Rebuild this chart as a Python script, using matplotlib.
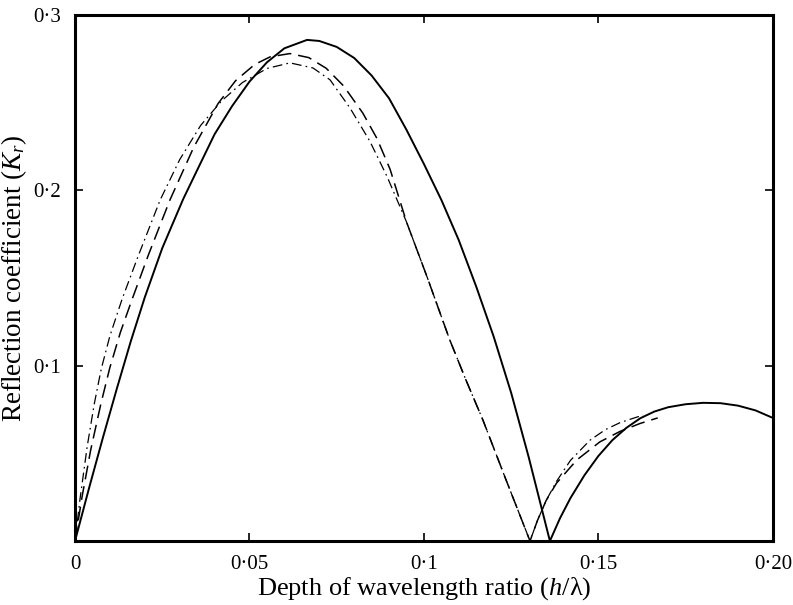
import matplotlib
matplotlib.use("Agg")
import matplotlib.pyplot as plt
from matplotlib.ticker import FixedLocator, FixedFormatter

plt.rcParams['font.family'] = ['Liberation Serif', 'DejaVu Serif']
plt.rcParams['mathtext.fontset'] = 'custom'
plt.rcParams['mathtext.rm'] = 'Liberation Serif'
plt.rcParams['mathtext.it'] = 'Liberation Serif:italic'
plt.rcParams['lines.scale_dashes'] = False

# solid curve
solid_x = [0, 0.004, 0.008, 0.012, 0.016, 0.020, 0.025, 0.031, 0.035,
           0.040, 0.045, 0.050, 0.055, 0.060, 0.0665, 0.070, 0.075, 0.080, 0.085,
           0.090, 0.095, 0.100, 0.105, 0.110, 0.115, 0.120, 0.125, 0.130, 0.1361,
           0.1390, 0.1420, 0.1460, 0.1500, 0.1540, 0.1580, 0.1620, 0.1660, 0.1700,
           0.1750, 0.1800, 0.1850, 0.1900, 0.1950, 0.2000]
solid_y = [0, 0.030, 0.059, 0.087, 0.114, 0.139, 0.167, 0.195, 0.2115,
           0.232, 0.248, 0.262, 0.273, 0.281, 0.2858, 0.2852, 0.2818, 0.2755, 0.2655,
           0.2525, 0.2345, 0.2150, 0.1945, 0.1715, 0.1450, 0.1165, 0.0845, 0.0480, 0.0,
           0.0130, 0.0245, 0.0375, 0.0485, 0.0575, 0.0645, 0.0700, 0.0738, 0.0763,
           0.0780, 0.0788, 0.0786, 0.0772, 0.0745, 0.0702]

# dashed curve
dash_x = [0, 0.002, 0.0045, 0.0075, 0.010, 0.013, 0.0163, 0.021, 0.0272, 0.034,
          0.041, 0.046, 0.0515, 0.056, 0.0616, 0.067, 0.072, 0.077, 0.0825, 0.0865,
          0.0903, 0.095, 0.1009, 0.1074, 0.1120, 0.1169, 0.1235, 0.1304, 0.1325,
          0.1350, 0.1380, 0.1438, 0.1504, 0.1562, 0.1619, 0.1670]
dash_y = [0, 0.025, 0.052, 0.079, 0.099, 0.119, 0.1375, 0.163, 0.1945, 0.2245,
          0.2495, 0.2625, 0.2718, 0.2762, 0.278, 0.2757, 0.2696, 0.2595, 0.2440, 0.2297,
          0.2120, 0.1820, 0.1506, 0.1147, 0.0920, 0.0690, 0.0350, 0.0, 0.0115,
          0.0230, 0.0330, 0.0462, 0.0565, 0.0625, 0.0670, 0.0702]

# dash-dot curve
dashdot_x = [0, 0.0015, 0.0035, 0.0055, 0.0075, 0.010, 0.0135, 0.018, 0.0244, 0.030,
             0.036, 0.042, 0.048, 0.055, 0.0616, 0.0682, 0.0731, 0.0788, 0.0845,
             0.0894, 0.095, 0.1009, 0.1074, 0.1120, 0.1169, 0.1235, 0.1304, 0.1325,
             0.1350, 0.1380, 0.1420, 0.1476, 0.1520, 0.1562, 0.1600, 0.1628]
dashdot_y = [0, 0.025, 0.054, 0.078, 0.098, 0.117, 0.138, 0.162, 0.1945, 0.2175,
             0.237, 0.251, 0.2615, 0.2695, 0.2727, 0.2698, 0.263, 0.247, 0.228,
             0.208, 0.182, 0.1506, 0.1147, 0.0920, 0.0690, 0.0350, 0.0, 0.0115,
             0.0230, 0.0340, 0.0460, 0.0575, 0.0635, 0.0675, 0.0700, 0.0718]

x_ticks = [0, 0.05, 0.1, 0.15, 0.2]
x_labels = ['0', '0·05', '0·1', '0·15', '0·20']
y_ticks = [0.1, 0.2, 0.3]
y_labels = ['0·1', '0·2', '0·3']

fig = plt.figure(figsize=(7.93, 6.05), dpi=100)
ax = fig.add_axes([0.0946, 0.1058, 0.880, 0.8694])

ax.plot(solid_x, solid_y, color='black', lw=1.4)
ax.plot(dash_x, dash_y, color='black', lw=1.1, linestyle=(0, (10, 5)))
ax.plot(dashdot_x, dashdot_y, color='black', lw=0.9, linestyle=(0, (7, 3, 1.2, 3)))

ax.set_xlim(0, 0.2)
ax.set_ylim(0, 0.3)
ax.xaxis.set_major_locator(FixedLocator(x_ticks))
ax.xaxis.set_major_formatter(FixedFormatter(x_labels))
ax.yaxis.set_major_locator(FixedLocator(y_ticks))
ax.yaxis.set_major_formatter(FixedFormatter(y_labels))
ax.tick_params(direction='in', length=6, width=1.2, top=True, right=True,
               labelsize=15, pad=10)

for s in ax.spines.values():
    s.set_linewidth(2.2)

ax.set_xlabel('Depth of wavelength ratio ($h$/λ)', fontsize=19, labelpad=1)
ax.set_ylabel('Reflection coefficient ($K_r$)', fontsize=19.5, labelpad=3)

fig.savefig('out.png', dpi=100)
